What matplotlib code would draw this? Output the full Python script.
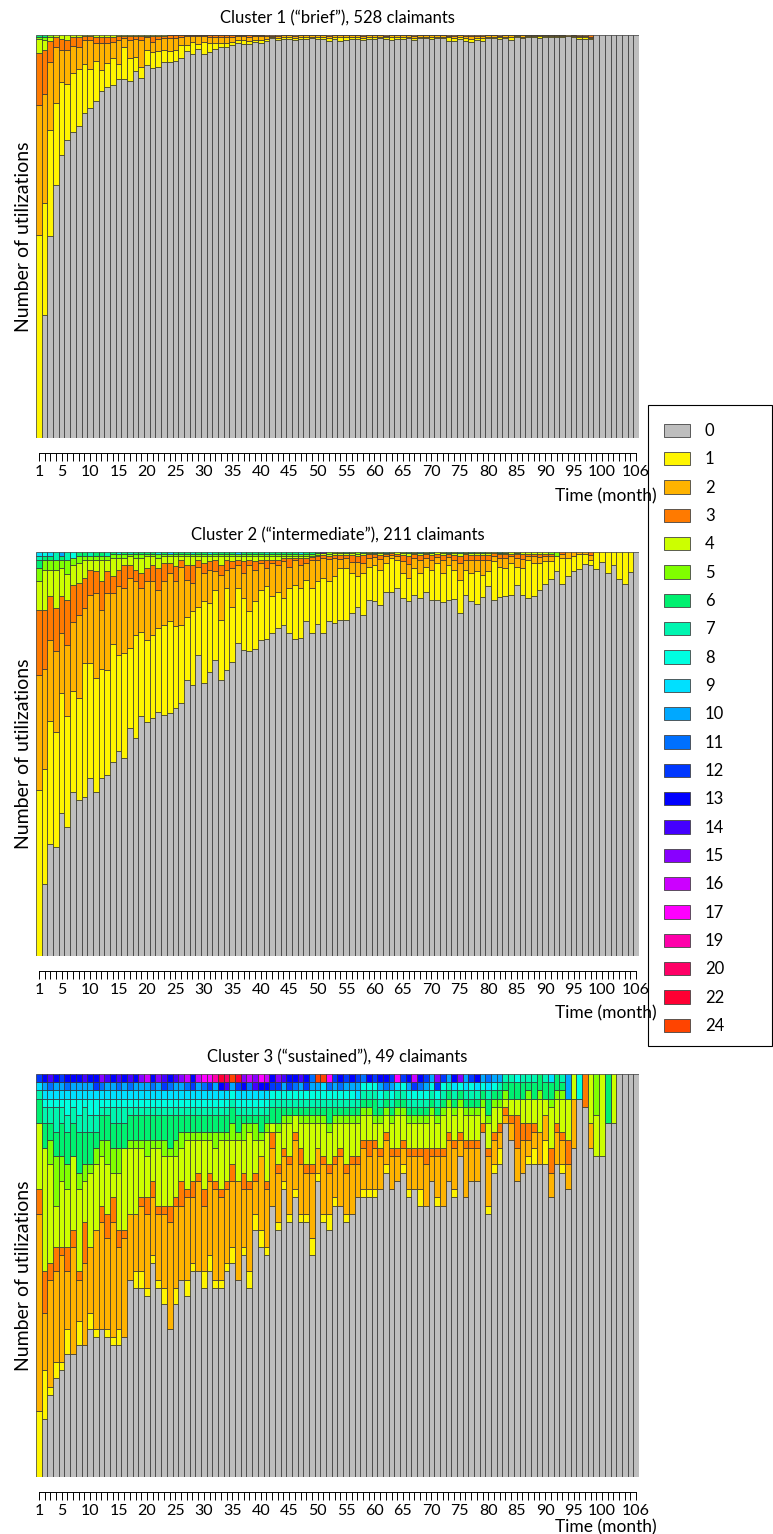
import numpy as np
import matplotlib
matplotlib.use('Agg')
import matplotlib.pyplot as plt
from matplotlib.patches import Patch, Rectangle

plt.rcParams['font.family'] = ['Lato', 'DejaVu Sans']

months = np.arange(1, 107)
tick_months = [1, 5, 10, 15, 20, 25, 30, 35, 40, 45, 50, 55, 60, 65, 70, 75,
               80, 85, 90, 95, 100, 106]

state_labels = ['0', '1', '2', '3', '4', '5', '6', '7', '8', '9', '10', '11',
                '12', '13', '14', '15', '16', '17', '19', '20', '22', '24']
state_colors = ['#BEBEBE', '#FFF500', '#FFB300', '#FF7A00', '#CCFF00', '#80FF00',
                '#00F070', '#00F5B0', '#00FFE0', '#00E0FF', '#00A8FF', '#0070FF',
                '#0038FF', '#0000FF', '#4400FF', '#8800FF', '#CC00FF', '#FF00FF',
                '#FF00AA', '#FF0066', '#FF0033', '#FF4400']

# ---- Cluster 1 ("brief"), share of claimants in % per month ----
c1_s0 = [0, 30.6, 50.2, 62.8, 70.2, 74.0, 75.9, 77.3, 80.6, 82.0,
         83.7, 86.1, 87.2, 87.6, 89.1, 89.0, 88.6, 91.1, 89.4, 92.6,
         91.7, 92.0, 93.2, 93.2, 93.4, 94.2, 96.1, 95.3, 96.5, 95.5,
         95.7, 96.5, 96.9, 96.9, 97.5, 97.9, 97.8, 97.8, 98.3, 98.1,
         98.5, 99.2, 98.6, 98.8, 98.9, 98.6, 99.0, 98.9, 99.2, 98.8,
         99.0, 98.6, 98.9, 98.3, 98.6, 99.0, 98.8, 98.7, 99.0, 98.9,
         99.2, 99.0, 98.6, 98.9, 99.0, 99.2, 98.7, 99.1, 99.2, 99.0,
         99.1, 99.2, 98.6, 98.5, 99.0, 98.7, 98.4, 98.9, 98.6, 99.3,
         99.2, 99.0, 99.3, 98.7, 99.4, 99.2, 99.5, 99.5, 99.3, 99.6,
         99.5, 99.6, 99.5, 99.8, 99.6, 99.3, 99.2, 99.3, 100, 100,
         100, 100, 100, 100, 100, 100]
c1_s1 = [50.4, 27.8, 26.2, 20.4, 18.2, 13.8, 14.6, 14.2, 12.1, 9.5,
         9.9, 5.2, 5.8, 6.8, 3.6, 7.9, 5.8, 3.5, 2.7, 3.8,
         4.2, 4.1, 3.1, 2.7, 2.7, 3.3, 1.4, 3.0, 1.4, 2.8,
         2.4, 1.6, 1.0, 1.2, 0.8, 0.9, 1.0, 0.6, 0.5, 0.6,
         0.6, 0.3, 0.6, 0.5, 0.4, 0.6, 0.4, 0.5, 0.3, 0.6,
         0.4, 0.7, 0.5, 1.0, 0.8, 0.4, 0.6, 0.6, 0.4, 0.5,
         0.3, 0.5, 0.8, 0.5, 0.4, 0.3, 0.6, 0.4, 0.3, 0.5,
         0.4, 0.3, 0.8, 0.9, 0.4, 0.6, 0.8, 0.5, 0.7, 0.3,
         0.4, 0.5, 0.3, 0.6, 0.3, 0.4, 0.2, 0.3, 0.4, 0.2,
         0.3, 0.2, 0.3, 0.0, 0.2, 0.4, 0.4, 0.3]
c1_s2 = [32.2, 27.0, 17.0, 13.9, 8.0, 8.6, 6.8, 5.4, 6.1, 7.3,
         4.5, 6.6, 5.1, 3.9, 6.1, 2.3, 4.4, 4.3, 6.7, 3.0,
         2.4, 2.8, 2.9, 3.3, 3.1, 1.9, 2.3, 1.5, 1.9, 1.5,
         1.5, 1.5, 1.7, 1.5, 1.3, 0.9, 0.9, 1.2, 0.9, 1.0,
         0.6, 0.3, 0.5, 0.5, 0.5, 0.5, 0.4, 0.4, 0.3, 0.4,
         0.4, 0.5, 0.4, 0.5, 0.4, 0.4, 0.4, 0.5, 0.4, 0.4,
         0.3, 0.3, 0.4, 0.4, 0.4, 0.3, 0.5, 0.3, 0.3, 0.3,
         0.3, 0.3, 0.4, 0.4, 0.4, 0.5, 0.6, 0.4, 0.5, 0.3,
         0.3, 0.3, 0.3, 0.5, 0.2, 0.3, 0.2, 0.2, 0.2, 0.2,
         0.2, 0.2, 0.2, 0.2, 0.2, 0.3, 0.4, 0.4]
c1_s3 = [12.9, 10.9, 5.1, 2.3, 2.5, 2.4, 2.3, 2.7, 1.0, 1.0,
         1.5, 1.7, 1.5, 1.3, 1.0, 0.6, 1.0, 0.9, 1.0, 0.4,
         1.5, 0.9, 0.6, 0.6, 0.6, 0.4, 0.2, 0.2, 0.2, 0.2,
         0.3, 0.3, 0.3, 0.3, 0.3, 0.2, 0.2, 0.3, 0.2, 0.2,
         0.3, 0.2, 0.2, 0.1, 0.1, 0.2, 0.1, 0.1, 0.1, 0.1,
         0.1, 0.2, 0.1, 0.1, 0.1, 0.1, 0.1, 0.2, 0.1, 0.1,
         0.1, 0.2, 0.1, 0.1, 0.1, 0.1, 0.2, 0.1, 0.1, 0.1,
         0.1, 0.1, 0.2, 0.3, 0.1, 0.3, 0.3, 0.3, 0.3, 0.1,
         0.1, 0.2, 0.1, 0.1, 0.1, 0.1, 0.1, 0.1, 0.1, 0.1,
         0.1, 0.1, 0.1, 0.0, 0.1, 0.2, 0.2, 0.4]
c1_s4 = [3.4, 2.5, 1.1, 0.6, 1.1, 1.2, 0.4, 0.4, 0.2, 0.2,
         0.4, 0.4, 0.4, 0.4, 0.2, 0.2, 0.2, 0.2, 0.2, 0.2,
         0.2, 0.2, 0.2, 0.1, 0.1, 0.1, 0.1, 0.1, 0.1, 0.1,
         0.1, 0.1, 0.1, 0.1, 0.1, 0.1, 0.1, 0.1, 0.1, 0.1]
c1_s5 = [0.5, 0.6, 0.4]
c1_s6 = [0.6, 0.6]

# ---- Cluster 2 ("intermediate"), share of claimants in % per month ----
c2_s0 = [0, 17.9, 27.6, 27.0, 35.3, 32.0, 40.5, 38.6, 39.4, 44.1,
         40.5, 44.1, 44.8, 48.1, 50.7, 49.1, 56.5, 54.0, 59.3, 57.9,
         58.8, 60.5, 59.7, 60.1, 61.3, 62.6, 68.3, 67.1, 74.5, 67.5,
         70.4, 73.3, 68.3, 70.8, 72.7, 77.4, 75.8, 75.4, 76.0, 78.3,
         78.4, 79.9, 81.2, 82.0, 79.9, 78.4, 78.8, 83.0, 79.9, 82.1,
         79.9, 82.8, 82.4, 83.2, 83.2, 84.9, 86.5, 84.5, 88.2, 87.8,
         86.9, 90.2, 90.2, 91.2, 88.6, 87.9, 89.4, 88.6, 90.0, 88.2,
         88.2, 87.6, 88.2, 88.4, 84.9, 89.3, 87.8, 87.1, 88.8, 91.5,
         88.2, 88.8, 89.0, 89.4, 91.9, 89.4, 88.6, 89.0, 90.7, 92.1,
         93.4, 95.4, 92.1, 94.0, 95.4, 95.9, 97.0, 96.7, 95.9, 97.5,
         94.8, 96.7, 93.4, 92.1, 95.0, 100]
c2_s1 = [41.2, 28.4, 30.6, 28.5, 29.7, 27.3, 25.0, 25.2, 33.1, 28.4,
         28.3, 27.0, 26.0, 29.1, 23.8, 25.9, 19.7, 25.5, 20.9, 20.4,
         20.7, 20.7, 22.3, 22.7, 20.3, 19.4, 15.7, 18.2, 12.0, 20.3,
         17.0, 17.4, 14.9, 20.3, 13.8, 13.7, 12.8, 9.9, 11.8, 12.4,
         13.1, 9.1, 9.0, 6.6, 11.2, 13.5, 12.3, 10.1, 11.2, 10.6,
         13.7, 9.9, 11.6, 12.8, 12.8, 9.9, 7.5, 10.3, 8.2, 9.1,
         8.7, 7.1, 8.3, 6.9, 6.2, 5.7, 6.6, 6.2, 6.4, 7.4,
         9.1, 7.2, 8.7, 7.2, 8.2, 6.3, 7.0, 8.1, 5.6, 3.7,
         9.5, 7.6, 7.0, 7.9, 4.5, 6.6, 9.3, 8.3, 6.6, 5.6,
         4.3, 3.5, 6.4, 4.5, 3.5, 3.7, 2.6, 1.4, 4.1, 2.5,
         5.2, 3.3, 6.6, 7.9, 5.0, 0]
c2_s2 = [28.4, 24.8, 20.1, 19.9, 14.9, 17.7, 17.1, 20.7, 13.6, 16.9,
         21.0, 14.6, 19.0, 12.6, 17.0, 16.1, 17.4, 13.2, 10.9, 14.4,
         13.2, 9.5, 10.7, 12.0, 11.1, 14.4, 9.1, 7.0, 9.9, 7.0,
         8.2, 4.5, 11.2, 4.5, 9.5, 5.8, 6.2, 11.6, 7.8, 6.6,
         4.5, 8.3, 6.7, 9.1, 5.3, 6.2, 5.8, 4.2, 6.8, 5.4,
         4.9, 5.6, 4.5, 2.2, 2.5, 2.8, 3.5, 2.6, 2.2, 1.8,
         2.6, 1.6, 0.8, 1.0, 3.0, 3.5, 2.5, 3.2, 2.2, 2.5,
         1.4, 3.2, 1.8, 2.3, 4.2, 2.5, 3.2, 2.8, 3.5, 2.8,
         1.4, 2.0, 2.4, 1.6, 2.2, 2.3, 1.2, 1.7, 1.5, 1.4,
         1.2, 0, 1.0, 1.5, 1.1, 0.4, 0.4, 1.2]
c2_s3 = [16.1, 14.6, 10.7, 10.7, 9.1, 11.2, 9.3, 7.8, 7.5, 6.2,
         5.4, 7.0, 5.4, 4.2, 4.1, 5.8, 3.3, 2.9, 3.7, 3.3,
         4.2, 5.3, 4.6, 2.5, 3.9, 1.7, 3.7, 4.6, 1.7, 2.5,
         2.1, 2.9, 2.5, 2.5, 1.7, 1.2, 2.9, 1.2, 2.1, 0.8,
         2.1, 0.8, 1.2, 0.8, 2.1, 0.4, 1.7, 1.2, 0.8, 0.8,
         0.8, 0.8, 0.8, 1.0, 0.8, 1.6, 1.5, 1.8, 0.8, 0.8,
         1.0, 0.6, 0.5, 0.5, 1.4, 2.0, 0.9, 1.2, 0.8, 1.2,
         0.9, 1.2, 0.8, 1.4, 1.8, 1.3, 1.2, 1.3, 1.3, 1.3,
         0.6, 1.0, 1.0, 0.7, 0.8, 1.2, 0.5, 0.6, 0.8, 0.5,
         0.7, 0, 0.5, 0, 0, 0, 0, 0.7]
c2_s4 = [7.0, 9.9, 6.6, 9.5, 7.0, 6.3, 5.0, 5.0, 4.5, 2.5,
         2.9, 5.4, 2.9, 4.5, 2.9, 1.6, 2.0, 2.9, 3.7, 2.9,
         2.0, 2.5, 1.6, 1.6, 2.3, 0.8, 2.1, 2.0, 0.8, 1.6,
         1.2, 0.8, 2.0, 0.8, 1.2, 0.8, 1.2, 0.8, 1.2, 0.8,
         0.8, 0.8, 0.8, 0.4, 0.4, 0.4, 0.4, 0.4, 0.4, 0.4,
         0.4, 0.5, 0.4, 0.5, 0.4, 0.5, 0.6, 0.5, 0.4, 0.3,
         0.5, 0.3, 0.2, 0.4, 0.5, 0.6, 0.4, 0.5, 0.4, 0.5,
         0.4, 0.5, 0.3, 0.5, 0.6, 0.4, 0.5, 0.5, 0.5, 0.5,
         0.3, 0.4, 0.4, 0.4, 0.4, 0.5, 0.4, 0.4, 0.4, 0.4]
c2_s5 = [3.3, 2.5, 2.5, 2.5, 2.1, 3.6, 1.6, 1.6, 1.0, 1.0,
         1.0, 1.0, 1.0, 1.0, 1.0, 1.0, 0.6, 1.0, 1.0, 0.6,
         0.6, 1.0, 0.6, 0.6, 0.6, 0.6, 0.6, 0.6, 0.6, 0.6,
         0.6, 0.6, 0.6, 0.6, 0.6, 0.6, 0.6, 0.6, 0.6, 0.6,
         0.6, 0.6, 0.6, 0.6, 0.6, 0.6, 0.5, 0.6, 0.4, 0.4,
         0, 0.4, 0.3, 0.3, 0, 0.3, 0.4, 0, 0.2, 0,
         0.3, 0, 0, 0, 0.3, 0, 0.2, 0, 0.2, 0,
         0, 0.3, 0, 0.2, 0, 0.2, 0, 0.2, 0, 0.2,
         0, 0, 0.2, 0, 0.2, 0, 0, 0, 0, 0,
         0.4, 1.1]
c2_s6 = [2.1, 1.0, 1.0, 0, 1.0, 0, 0, 1.1, 0.9, 0,
         0.9, 0.9, 0, 0.5, 0, 0.5, 0, 0.5, 0.5, 0.5,
         0.5, 0, 0.5, 0, 0.5, 0.5, 0.5, 0, 0.5, 0.5,
         0, 0.5, 0.5, 0.5, 0.5, 0, 0.5, 0.5, 0.5, 0.5,
         0, 0.5, 0.5, 0.5, 0.5, 0.5, 0, 0.5, 0.5, 0.3,
         0, 0, 0, 0, 0.3, 0, 0, 0, 0, 0.2,
         0, 0, 0, 0, 0, 0.3, 0, 0, 0, 0.2,
         0, 0, 0.2, 0, 0, 0, 0.3, 0, 0.3, 0,
         0, 0.2]
c2_s7_months = [1, 4, 6, 10, 13, 17, 28, 41, 58, 62, 68, 75]
c2_s7_pct = [1.0, 1.9, 1.9, 0.9, 0.9, 0.5, 0.5, 0.5, 0.3, 0.2, 0.3, 0.3]
c2_s8_months = [2, 7, 15, 22, 31, 47]
c2_s8_pct = [0.9, 1.5, 0.5, 0.5, 0.5, 0.5]
c2_s9_months = [1, 3, 24, 36]
c2_s9_pct = [0.9, 0.9, 0.5, 0.5]
c2_s10_months = [5]
c2_s10_pct = [0.9]
c2_s14_months = [51]
c2_s14_pct = [0.3]

# ---- Cluster 3 ("sustained"), number of claimants (of 49) per month ----
c3_s0 = [0, 7, 10, 12, 13, 15, 15, 16, 16, 18,
         17, 18, 17, 16, 16, 17, 24, 23, 23, 22,
         26, 23, 21, 18, 21, 24, 22, 25, 25, 23,
         25, 23, 23, 25, 26, 24, 27, 23, 30, 28,
         27, 33, 30, 35, 31, 34, 31, 31, 27, 36,
         31, 30, 33, 33, 31, 32, 34, 34, 34, 34,
         35, 37, 35, 36, 37, 34, 35, 33, 33, 36,
         33, 33, 36, 34, 39, 34, 36, 36, 42, 32,
         37, 38, 43, 41, 36, 37, 38, 38, 38, 38,
         34, 38, 37, 35, 40, 46, 45, 40, 39, 39,
         43, 43, 49, 49, 49, 49]
c3_s1 = [8, 6, 1, 2, 1, 3, 0, 3, 0, 2,
         1, 0, 1, 1, 2, 0, 0, 2, 2, 1,
         1, 1, 2, 0, 2, 0, 2, 1, 0, 2,
         2, 1, 1, 1, 2, 0, 1, 2, 2, 2,
         1, 0, 1, 1, 1, 1, 1, 1, 2, 1,
         1, 2, 1, 0, 1, 0, 0, 1, 1, 1,
         0, 1, 0, 0, 1, 1, 0, 2, 0, 0,
         1, 0, 0, 1, 0, 0, 0, 0, 0, 1,
         1, 2, 0, 0, 0, 0, 1, 2, 0, 3,
         0, 0, 1]
c3_s2 = [24, 7, 13, 11, 13, 7, 13, 5, 10, 8,
         12, 13, 11, 14, 10, 12, 8, 7, 8, 9,
         7, 8, 9, 13, 10, 9, 10, 8, 11, 8,
         9, 11, 10, 9, 8, 12, 7, 10, 4, 9,
         7, 7, 6, 3, 6, 6, 6, 5, 8, 3,
         6, 5, 4, 6, 5, 6, 4, 5, 4, 5,
         4, 3, 4, 3, 2, 4, 4, 4, 5, 3,
         5, 6, 5, 5, 2, 6, 4, 4, 0, 6,
         3, 2, 1, 2, 4, 4, 2, 2, 4, 3,
         3, 4, 3, 3, 6, 0, 0, 3]
c3_s3 = [3, 5, 2, 3, 1, 3, 2, 1, 5, 0,
         0, 2, 3, 3, 2, 1, 0, 0, 1, 2,
         2, 1, 1, 2, 1, 3, 1, 2, 1, 2,
         1, 1, 1, 1, 2, 0, 2, 1, 1, 0,
         1, 2, 1, 1, 1, 1, 2, 1, 1, 0,
         1, 1, 1, 1, 1, 1, 1, 1, 2, 1,
         1, 1, 1, 1, 1, 1, 1, 1, 2, 1,
         1, 1, 1, 1, 1, 1, 1, 1, 1, 1,
         1, 1, 1, 1, 4, 2, 2, 1, 0, 0,
         3, 1, 1, 3, 0, 0, 4]
c3_s4 = [8, 15, 12, 5, 8, 7, 9, 10, 5, 9,
         8, 6, 6, 3, 7, 10, 8, 8, 6, 5,
         4, 7, 6, 6, 5, 4, 6, 5, 4, 6,
         4, 4, 6, 5, 3, 5, 4, 6, 4, 2,
         6, 1, 4, 3, 4, 2, 3, 5, 5, 3,
         4, 4, 4, 3, 5, 4, 4, 3, 3, 2,
         3, 2, 3, 4, 3, 3, 3, 3, 3, 4,
         3, 4, 3, 3, 3, 3, 3, 3, 2, 3,
         3, 2, 1, 2, 2, 3, 3, 3, 4, 2,
         5, 3, 4, 5, 3, 0, 0, 6, 5, 10,
         0, 6]
c3_s5 = [0, 0, 3, 6, 3, 3, 0, 2, 2, 1,
         2, 2, 3, 3, 3, 0, 1, 1, 1, 2,
         1, 1, 2, 1, 2, 2, 1, 1, 1, 1,
         1, 2, 1, 1, 2, 1, 2, 1, 2, 1,
         1, 0, 1, 1, 1, 0, 1, 1, 1, 1,
         1, 1, 1, 1, 1, 1, 1, 1, 1, 1,
         1, 1, 1, 1, 1, 1, 1, 1, 1, 1,
         1, 1, 1, 1, 1, 1, 1, 1, 1, 1,
         1, 1, 1, 0, 0, 0, 1, 0, 1, 0,
         1, 1, 1, 0, 0, 0, 0, 0, 5]
c3_s6 = [3, 3, 2, 3, 4, 4, 4, 5, 4, 4,
         2, 3, 3, 3, 3, 3, 3, 3, 3, 3,
         3, 3, 3, 4, 3, 2, 2, 2, 2, 2,
         2, 2, 2, 2, 2, 2, 1, 1, 1, 2,
         1, 2, 2, 1, 1, 1, 1, 1, 1, 1,
         1, 2, 1, 1, 1, 1, 1, 1, 1, 2,
         1, 1, 1, 1, 1, 1, 1, 1, 1, 1,
         1, 1, 1, 1, 1, 1, 1, 1, 1, 2,
         1, 1, 1, 2, 2, 2, 1, 2, 2, 2,
         2, 2, 1, 0, 0, 0, 0, 0, 0, 0,
         6]
c3_s7 = [1, 2, 2, 3, 2, 2, 2, 2, 3, 2,
         2, 1, 1, 2, 2, 2, 1, 1, 1, 1,
         1, 1, 1, 1, 1, 1, 1, 1, 1, 1,
         1, 1, 1, 1, 1, 1, 1, 1, 1, 1,
         1, 1, 1, 1, 1, 1, 1, 1, 1, 1,
         1, 1, 1, 1, 1, 1, 1, 1, 1, 1,
         1, 1, 1, 1, 1, 1, 1, 1, 1, 1,
         1, 1, 1, 1, 0, 1, 1, 1, 0, 1,
         0, 1, 1, 1, 0, 1, 1, 1, 0, 1,
         0, 0, 1]
c3_s8 = [0, 1, 1, 1, 1, 2, 1, 2, 1, 2,
         2, 1, 1, 1, 1, 1, 1, 1, 1, 1,
         1, 1, 1, 1, 1, 1, 1, 1, 1, 1,
         1, 1, 1, 1, 1, 1, 1, 1, 1, 1,
         1, 1, 1, 1, 1, 1, 1, 1, 1, 1,
         1, 1, 1, 1, 1, 1, 0, 1, 1, 1,
         1, 0, 1, 0, 1, 1, 1, 1, 1, 1,
         1, 1, 0, 0, 1, 0, 1, 0, 1, 0,
         1, 0, 0, 0, 1, 0, 0, 0, 0, 0,
         0, 0, 0, 0, 0, 3]
c3_s9 = [1, 1, 1, 1, 1, 1, 1, 1, 1, 1,
         1, 1, 1, 1, 1, 1, 1, 1, 1, 1,
         1, 1, 1, 1, 1, 1, 1, 1, 1, 1,
         1, 1, 1, 1, 0, 1, 1, 1, 1, 1,
         1, 0, 0, 0, 0, 0, 0, 0, 0, 0,
         1, 0, 0, 0, 0, 0, 1, 0, 0, 0,
         0, 0, 0, 1, 0, 0, 0, 0, 0, 0,
         0, 0, 0, 1, 0, 1, 0, 1, 0, 1,
         0, 0, 0, 0, 0, 0, 0, 0, 0, 0,
         1]
# rarer states: one entry per claimant and month
c3_s10 = [2, 4, 5, 7, 8, 9, 10, 13, 14, 16, 18, 19, 20, 22, 25, 26, 29, 32, 35,
          44, 47, 49, 50, 53, 55, 56, 57, 61, 63, 66, 69, 70, 73, 76, 79, 81, 82,
          94, 94, 94]
c3_s11 = [3, 6, 12, 15, 17, 21, 24, 27, 30, 38, 46, 49, 52, 54, 58, 62, 68, 80]
c3_s12 = [1, 5, 11, 23, 28, 31, 36, 42, 43, 45, 48, 53, 55, 57, 60, 63, 65, 67,
          69, 71, 72, 77]
c3_s13 = [2, 4, 6, 7, 8, 10, 11, 14, 16, 18, 21, 24, 28, 33, 37, 40, 41, 42, 45,
          46, 48, 54, 56, 59, 61, 62, 66, 68, 74, 78]
c3_s14 = [3, 9, 13, 15, 17, 23, 25, 34, 39, 44, 47]
c3_s15 = [12, 19, 22, 26, 37, 39, 43, 71, 75]
c3_s16 = [20, 27, 29, 38, 41, 67]
c3_s17 = [30, 31, 40, 52, 64]
c3_s19 = [32]
c3_s20 = [34]
c3_s22 = [33, 36]
c3_s24 = [35, 50, 51]


def full(values):
    arr = np.zeros(len(months))
    arr[:len(values)] = values
    return arr


def sparse(month_list, values=None):
    arr = np.zeros(len(months))
    if values is None:
        values = [1] * len(month_list)
    for m, v in zip(month_list, values):
        arr[m - 1] += v
    return arr


def to_shares(series):
    total = sum(series.values())
    return {k: v / total for k, v in series.items()}


def draw_panel(ax, shares, title):
    bottom = np.zeros(len(months))
    for label, color in zip(state_labels, state_colors):
        if label not in shares:
            continue
        h = shares[label]
        keep = h > 0
        ax.bar(months[keep], h[keep], bottom=bottom[keep], width=1.0,
               color=color, edgecolor='#333333', linewidth=0.5)
        bottom = bottom + h
    ax.set_xlim(0.5, 106.5)
    ax.set_ylim(0, 1)
    ax.set_title(title, fontsize=12, pad=8)
    ax.set_ylabel('Number of utilizations', fontsize=14, labelpad=3)
    for side in ['left', 'top', 'right']:
        ax.spines[side].set_visible(False)
    # R-style axis: line spanning first to last tick, set below the bars
    ax.spines['bottom'].set_position(('outward', 11))
    ax.spines['bottom'].set_bounds(1, 106)
    ax.spines['bottom'].set_linewidth(0.7)
    ax.set_yticks([])
    ax.set_xticks(months)
    ax.set_xticklabels([str(m) if m in tick_months else '' for m in months],
                       fontsize=11.5)
    ax.tick_params(axis='x', length=6, width=0.7, pad=2.5)


cluster1 = to_shares({
    '0': full(c1_s0), '1': full(c1_s1), '2': full(c1_s2), '3': full(c1_s3),
    '4': full(c1_s4), '5': full(c1_s5), '6': full(c1_s6)})

cluster2 = to_shares({
    '0': full(c2_s0), '1': full(c2_s1), '2': full(c2_s2), '3': full(c2_s3),
    '4': full(c2_s4), '5': full(c2_s5), '6': full(c2_s6),
    '7': sparse(c2_s7_months, c2_s7_pct), '8': sparse(c2_s8_months, c2_s8_pct),
    '9': sparse(c2_s9_months, c2_s9_pct), '10': sparse(c2_s10_months, c2_s10_pct),
    '14': sparse(c2_s14_months, c2_s14_pct)})

cluster3 = to_shares({
    '0': full(c3_s0), '1': full(c3_s1), '2': full(c3_s2), '3': full(c3_s3),
    '4': full(c3_s4), '5': full(c3_s5), '6': full(c3_s6), '7': full(c3_s7),
    '8': full(c3_s8), '9': full(c3_s9), '10': sparse(c3_s10),
    '11': sparse(c3_s11), '12': sparse(c3_s12), '13': sparse(c3_s13),
    '14': sparse(c3_s14), '15': sparse(c3_s15), '16': sparse(c3_s16),
    '17': sparse(c3_s17), '19': sparse(c3_s19), '20': sparse(c3_s20),
    '22': sparse(c3_s22), '24': sparse(c3_s24)})

W, H = 773, 1534
fig = plt.figure(figsize=(W / 100, H / 100), dpi=100)

panels = [
    (35, 438, cluster1, 'Cluster 1 (\u201cbrief\u201d), 528 claimants', 496),
    (552, 956, cluster2, 'Cluster 2 (\u201cintermediate\u201d), 211 claimants', 1013),
    (1074, 1477, cluster3, 'Cluster 3 (\u201csustained\u201d), 49 claimants', 1527),
]
for top, bot, shares, title, time_y in panels:
    ax = fig.add_axes([36 / W, 1 - bot / H, 603 / W, (bot - top) / H])
    draw_panel(ax, shares, title)
    fig.text(657 / W, 1 - time_y / H, 'Time (month)', ha='right', va='center',
             fontsize=12.5)

# legend with a square frame on the right
handles = [Patch(facecolor=c, edgecolor='#444444', linewidth=0.6, label=l)
           for l, c in zip(state_labels, state_colors)]
fig.legend(handles=handles, loc='upper left', bbox_to_anchor=(664 / W, 1 - 423 / H),
           frameon=False, fontsize=12, borderpad=0, borderaxespad=0,
           handlelength=1.55, handleheight=0.85, handletextpad=0.9,
           labelspacing=0.74)
fig.add_artist(Rectangle((648 / W, 1 - 1046 / H), 124 / W, (1046 - 405) / H,
                         transform=fig.transFigure, fill=False,
                         edgecolor='black', linewidth=0.8))

fig.savefig('out.png', dpi=100)
plt.close(fig)
